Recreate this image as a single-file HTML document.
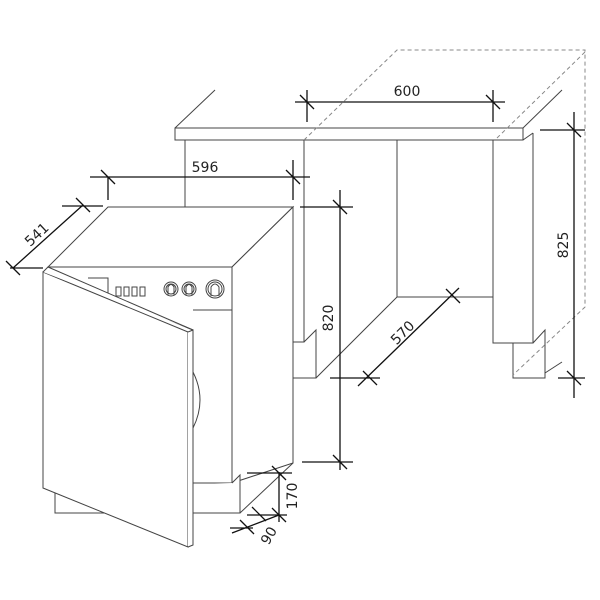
<!DOCTYPE html>
<html><head><meta charset="utf-8"><style>html,body{margin:0;padding:0;background:#fff}svg{display:block}</style></head>
<body>
<svg width="600" height="600" viewBox="0 0 600 600" xmlns="http://www.w3.org/2000/svg" font-family="'DejaVu Sans','Liberation Sans',sans-serif">
<g fill="none" stroke="#444" stroke-width="1">
<!-- countertop -->
<path d="M175,128 L523,128 L523,140 L175,140 Z"/>
<path d="M175,128 L215,90"/>
<path d="M523,128 L562,90"/>
<path d="M523,140 L533,133"/>
<!-- left cabinet side -->
<path d="M185,140 L185,207"/>
<path d="M304,140 L304,342 L293,342"/>
<path d="M304,342 L316,330 L316,378 L293,378"/>
<path d="M316,378 L397,297 L493,297"/>
<path d="M397,140 L397,297"/>
<!-- right panel -->
<path d="M493,140 L493,343 L533,343 L533,133"/>
<path d="M513,343 L513,378 L545,378 L545,330 L533,343"/>
<path d="M545,373 L562,362"/>
</g>
<g fill="none" stroke="#888" stroke-width="1" stroke-dasharray="4,3">
<path d="M304,140 L397,50 L585,50 L585,307 L513,375"/>
<path d="M497,138 L585,52"/>
</g>
<!-- washer -->
<g fill="#fff" stroke="#444" stroke-width="1">
<path d="M108,207 L293,207 L232,267 L48,267 Z"/>
<path d="M232,267 L293,207 L293,463 L232,483 Z"/>
<path d="M48,267 L232,267 L232,483 L193,483 L193,330 L48,270 Z" />
<path d="M55,488 L55,513 L240,513 L240,475 L232,483"/>
<path d="M240,513 L293,463"/>
<path d="M193,310 L232,310" fill="none"/>
<path d="M88,278 L108,278 L108,295" fill="none"/>
<rect x="116" y="287" width="5" height="9"/>
<rect x="124" y="287" width="5" height="9"/>
<rect x="132" y="287" width="5" height="9"/>
<rect x="140" y="287" width="5" height="9"/>
<circle cx="171" cy="289" r="7"/><circle cx="171" cy="289" r="5"/>
<circle cx="189" cy="289" r="7"/><circle cx="189" cy="289" r="5"/>
<circle cx="215" cy="289" r="9"/><circle cx="215" cy="289" r="7"/>
<path d="M168,295 L168,287 Q171,282 174,287 L174,295 M186,295 L186,287 Q189,282 192,287 L192,295 M211,296 L211,287 Q215,281 219,287 L219,296" fill="none"/>
<path d="M193,372 Q207,400 193,428" fill="none"/>
<!-- door -->
<path d="M43,272 L188,332 L188,547 L43,488 Z"/>
<path d="M188,332 L193,330 L193,545 L188,547"/>
<path d="M43,272 L48,267 L193,330"/>
</g>
<!-- dimensions -->
<g stroke="#111" stroke-width="1.3" fill="none">
<path d="M295,102 L505,102 M307,90 L307,122 M493,90 L493,122 M300,95 L314,109 M486,95 L500,109"/>
<path d="M90,177 L310,177 M108,177 L108,200 M293,160 L293,200 M101,170 L115,184 M286,170 L300,184"/>
<path d="M13,268 L83,205 M62,206 L103,206 M10,268 L43,268 M76,198 L90,212 M6,261 L20,275"/>
<path d="M340,190 L340,470 M300,207 L353,207 M302,462 L353,462 M333,200 L347,214 M333,455 L347,469"/>
<path d="M574,112 L574,398 M540,130 L585,130 M558,378 L585,378 M567,123 L581,137 M567,371 L581,385"/>
<path d="M358,386 L459,288 M330,378 L380,378 M363,371 L377,385 M446,289 L460,303"/>
<path d="M279,472 L279,522 M247,473 L292,473 M247,515 L287,515 M272,466 L286,480 M272,508 L286,522"/>
<path d="M230,528 L253,528 M240,520 L254,534 M252,507 L266,521 M232,533 L279,515"/>
</g>
<g font-size="14" fill="#222">
<text x="407" y="96" text-anchor="middle">600</text>
<text x="205" y="172" text-anchor="middle">596</text>
<text transform="translate(40,238) rotate(-43)" text-anchor="middle">541</text>
<text transform="translate(333,318) rotate(-90)" text-anchor="middle">820</text>
<text transform="translate(568,245) rotate(-90)" text-anchor="middle">825</text>
<text transform="translate(406,336) rotate(-45)" text-anchor="middle">570</text>
<text transform="translate(297,496) rotate(-90)" text-anchor="middle">170</text>
<text transform="translate(273,538) rotate(-60)" text-anchor="middle">90</text>
</g>
</svg>
</body></html>
